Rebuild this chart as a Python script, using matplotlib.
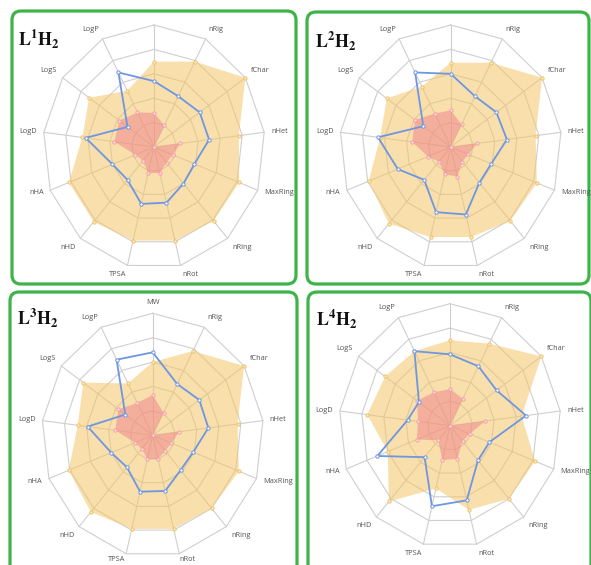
import numpy as np
import matplotlib
matplotlib.use("Agg")
import matplotlib.pyplot as plt
from matplotlib.patches import FancyBboxPatch

plt.rcParams['mathtext.fontset'] = 'stix'

labels = ["MW", "nRig", "fChar", "nHet", "MaxRing", "nRing", "nRot",
          "TPSA", "nHD", "nHA", "LogD", "LogS", "LogP"]

upper_L1 = [0.70, 0.79, 1.00, 0.77, 0.82, 0.81, 0.79, 0.79, 0.82, 0.82, 0.65, 0.71, 0.52]
lower_L1 = [0.28, 0.20, 0.00, 0.24, 0.18, 0.17, 0.22, 0.22, 0.15, 0.18, 0.36, 0.38, 0.32]
value_L1 = [0.54, 0.47, 0.50, 0.50, 0.39, 0.40, 0.47, 0.48, 0.36, 0.40, 0.62, 0.29, 0.69]

upper_L2 = [0.69, 0.78, 1.00, 0.77, 0.83, 0.81, 0.76, 0.76, 0.84, 0.79, 0.64, 0.70, 0.56]
lower_L2 = [0.30, 0.21, 0.00, 0.24, 0.17, 0.16, 0.25, 0.23, 0.16, 0.22, 0.35, 0.39, 0.31]
value_L2 = [0.60, 0.47, 0.50, 0.51, 0.39, 0.39, 0.57, 0.55, 0.36, 0.51, 0.66, 0.30, 0.69]

upper_L3 = [0.60, 0.78, 1.00, 0.77, 0.83, 0.80, 0.79, 0.79, 0.84, 0.81, 0.68, 0.76, 0.48]
lower_L3 = [0.33, 0.21, 0.00, 0.24, 0.18, 0.17, 0.20, 0.20, 0.15, 0.17, 0.34, 0.375, 0.30]
value_L3 = [0.68, 0.475, 0.51, 0.505, 0.39, 0.38, 0.47, 0.476, 0.35, 0.40, 0.59, 0.30, 0.70]

upper_L4 = [0.70, 0.76, 1.00, 0.65, 0.82, 0.80, 0.71, 0.53, 0.83, 0.60, 0.75, 0.71, 0.69]
lower_L4 = [0.30, 0.25, 0.00, 0.32, 0.19, 0.17, 0.28, 0.29, 0.16, 0.32, 0.29, 0.36, 0.31]
value_L4 = [0.585, 0.55, 0.51, 0.69, 0.38, 0.38, 0.63, 0.68, 0.345, 0.70, 0.385, 0.34, 0.69]

titles = [r"$\mathbf{L^{1}H_{2}}$", r"$\mathbf{L^{2}H_{2}}$",
          r"$\mathbf{L^{3}H_{2}}$", r"$\mathbf{L^{4}H_{2}}$"]
show_mw = [False, False, True, False]

W, H = 591, 565
fig = plt.figure(figsize=(W / 100, H / 100), dpi=100)
fig.patch.set_facecolor("white")

bg = fig.add_axes([0, 0, 1, 1])
bg.set_xlim(0, W)
bg.set_ylim(H, 0)
bg.axis("off")

GREEN = "#3db34a"
boxes = [(12, 11, 284, 273), (307, 12, 282, 272), (10, 292, 287, 290), (308, 292, 283, 290)]
for (x, y, w, h) in boxes:
    bg.add_patch(FancyBboxPatch((x, y), w, h, boxstyle="round,pad=0,rounding_size=9",
                                fc="none", ec=GREEN, lw=2.3, clip_on=False))

title_pos = [(18, 27), (315, 29), (17, 306), (316, 307)]
for (tx, ty), t in zip(title_pos, titles):
    bg.text(tx, ty, t, fontsize=13, va="top", ha="left", color="#111111")

centers = [(154, 147), (450.7, 147), (152.7, 435.3), (450, 425.7)]
RX, RY = 111, 122
bottom_gap = [6, 6, 2, 6]
data = [(upper_L1, lower_L1, value_L1), (upper_L2, lower_L2, value_L2),
        (upper_L3, lower_L3, value_L3), (upper_L4, lower_L4, value_L4)]

n = len(labels)
theta = np.arange(n) * 2 * np.pi / n
theta_c = np.append(theta, theta[0])

GRID = "#cfcfcf"
ORANGE = "#f4c568"
RED = "#f06e86"
BLUE = "#6e96e1"

for (cx, cy), (up, lo, val), mw, bgap in zip(centers, data, show_mw, bottom_gap):
    ax = fig.add_axes([(cx - RX) / W, 1 - (cy + RY) / H, 2 * RX / W, 2 * RY / H],
                      projection="polar")
    ax.set_aspect("auto")
    ax.set_theta_offset(np.pi / 2)
    ax.set_theta_direction(-1)
    ax.set_ylim(0, 1)
    ax.set_xticks([])
    ax.set_yticks([])
    ax.grid(False)
    ax.spines["polar"].set_visible(False)
    ax.set_facecolor("none")

    for lev in [0.2, 0.4, 0.6, 0.8, 1.0]:
        ax.plot(theta_c, [lev] * (n + 1), color=GRID, lw=0.8, clip_on=False, zorder=1)
    for t in theta:
        ax.plot([t, t], [0, 1], color=GRID, lw=0.8, clip_on=False, zorder=1)

    up_c = np.append(up, up[0])
    lo_c = np.append(lo, lo[0])
    val_c = np.append(val, val[0])

    ax.fill(theta_c, up_c, color=ORANGE, alpha=0.55, lw=0, zorder=2, clip_on=False)
    ax.plot(theta, up, ls="none", marker="o", ms=2.4, mfc="#fbe8c4", mec="#f0bf5a",
            mew=0.6, zorder=3, clip_on=False)
    ax.fill(theta_c, lo_c, color=RED, alpha=0.42, lw=0, zorder=4, clip_on=False)
    ax.plot(theta, lo, ls="none", marker="o", ms=2.4, mfc="#fbd9dc", mec="#f39aa5",
            mew=0.6, zorder=5, clip_on=False)
    ax.plot(theta_c, val_c, color=BLUE, lw=1.3, zorder=6, clip_on=False)
    ax.plot(theta, val, ls="none", marker="o", ms=2.4, mfc="white", mec=BLUE,
            mew=0.7, zorder=7, clip_on=False)

    for i, (t, lab) in enumerate(zip(theta, labels)):
        if i == 0 and not mw:
            continue
        ang = np.pi / 2 - t
        c, s = np.cos(ang), np.sin(ang)
        ha = "left" if c > 0.1 else ("right" if c < -0.1 else "center")
        va = "bottom" if s > 0.5 else ("top" if s < -0.5 else "center")
        g = 7
        if s < -0.9:
            g = bgap
        gap = g * 0.72
        ax.annotate(lab, xy=(t, 1.0), xytext=(gap * c, gap * s), textcoords="offset points",
                    ha=ha, va=va, fontsize=5.3, color="#555555", family="Open Sans",
                    annotation_clip=False)

fig.savefig("out.png", dpi=100, facecolor="white")
